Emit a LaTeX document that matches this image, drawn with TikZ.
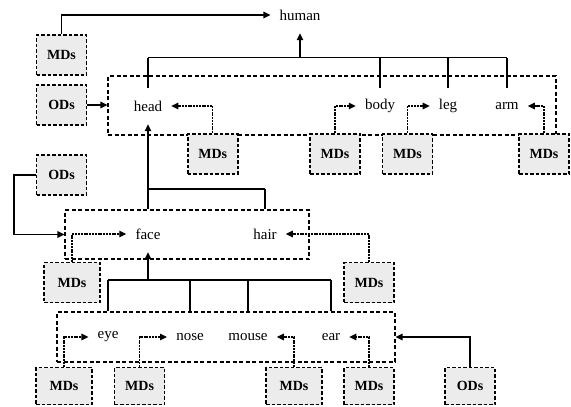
\documentclass[tikz,border=0pt]{standalone}
\usepackage{fontspec}
\setmainfont{Liberation Serif}
\usetikzlibrary{arrows.meta}
\begin{document}
\begin{tikzpicture}[x=1pt,y=-1pt,
  lbl/.style={font=\fontsize{15}{17}\selectfont, inner xsep=9pt, inner ysep=0pt, minimum height=36pt, anchor=center},
  group/.style={draw, line width=1.2pt, dash pattern=on 4pt off 2.5pt, inner sep=0pt},
  tag/.style={draw, line width=1.6pt, dash pattern=on 3.5pt off 2pt, fill=gray!15,
    minimum width=50pt, minimum height=40pt, inner sep=0pt,
    font=\bfseries\fontsize{14}{16}\selectfont},
  wide/.style={minimum width=56pt},
  link/.style={line width=1.3pt, -{Triangle[length=7pt,width=6.5pt]}},
  mlink/.style={line width=1.3pt, dash pattern=on 2pt off 0.8pt, -{Triangle[length=7pt,width=6.5pt]}},
  bus/.style={line width=1.4pt}
]
\useasboundingbox (0,0) rectangle (571,407);

% grouping frames
\node[group, minimum width=448pt, minimum height=59pt] (g1) at (332,105.5) {};
\node[group, minimum width=244pt, minimum height=49pt] (g2) at (187,234.5) {};
\node[group, minimum width=338pt, minimum height=50pt] (g3) at (226,337) {};

% part names
\node[lbl] (human) at (300,15) {human};
\node[lbl] (head) at (148,106) {head};
\node[lbl] (body) at (380,106) {body};
\node[lbl] (leg) at (448,106) {leg};
\node[lbl] (arm) at (507,106) {arm};
\node[lbl] (face) at (148,234) {face};
\node[lbl] (hair) at (265,234) {hair};
\node[lbl] (eye) at (108,337) {eye};
\node[lbl] (nose) at (190,337) {nose};
\node[lbl] (mouse) at (248,337) {mouse};
\node[lbl] (ear) at (331,337) {ear};

% descriptor boxes
\node[tag] (m0) at (61.5,55) {MDs};
\node[tag] (o1) at (61.5,105) {ODs};
\node[tag] (mhd) at (212.7,154) {MDs};
\node[tag] (mbd) at (335,154) {MDs};
\node[tag] (mlg) at (407.5,154) {MDs};
\node[tag] (mar) at (544,154) {MDs};
\node[tag] (o2) at (61.5,175) {ODs};
\node[tag, wide] (mfc) at (72,282.5) {MDs};
\node[tag] (mhr) at (369,282.5) {MDs};
\node[tag, wide, minimum height=37pt] (mey) at (64,386) {MDs};
\node[tag, minimum height=37pt] (mns) at (139.6,386) {MDs};
\node[tag, wide, minimum height=37pt] (mms) at (294,386) {MDs};
\node[tag, minimum height=37pt] (mer) at (369,386) {MDs};
\node[tag, minimum height=37pt] (o3) at (470,386) {ODs};

% tree buses
\coordinate (b1) at (300,57.5);
\coordinate (b2) at (148,189);
\coordinate (b3) at (148,280);
\coordinate (bend) at (14,175);

\draw[bus] (head |- b1) -- (arm |- b1);
\foreach \n in {head,body,leg,arm} \draw[bus] (\n |- b1) -- (\n.north);
\draw[link] (b1) -- (human);

\draw[bus] (face |- b2) -- (hair |- b2);
\foreach \n in {face,hair} \draw[bus] (\n |- b2) -- (\n |- g2.north);
\draw[link] (b2) -- (head);

\draw[bus] (eye |- b3) -- (ear |- b3);
\foreach \n in {eye,nose,mouse,ear} \draw[bus] (\n |- b3) -- (\n |- g3.north);
\draw[link] (b3) -- (face);

% object descriptors
\draw[link] (o1) -- (o1 -| g1.west);
\draw[link] (o2.west) -- (bend) |- (g2.west);
\draw[link] (o3.north) |- (g3.east);

% member descriptors
\draw[link] (m0.north) |- (human.west);
\draw[mlink] (mhd.north) |- (head.east);
\draw[mlink] (mbd.north) |- (body.west);
\draw[mlink] (mlg.north) |- (leg.west);
\draw[mlink] (mar.north) |- (arm.east);
\draw[mlink] (mfc.north) |- (face.west);
\draw[mlink] (mhr.north) |- (hair.east);
\draw[mlink] (mey.north) |- (eye.west);
\draw[mlink] (mns.north) |- (nose.west);
\draw[mlink] (mms.north) |- (mouse.east);
\draw[mlink] (mer.north) |- (ear.east);
\end{tikzpicture}
\end{document}
